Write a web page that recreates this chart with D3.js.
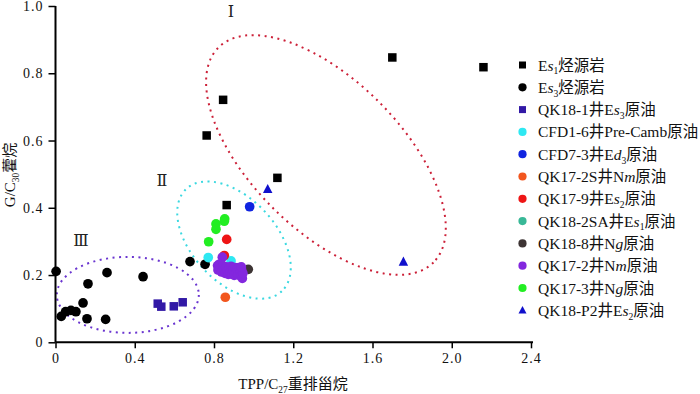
<!DOCTYPE html>
<html lang="zh">
<head>
<meta charset="UTF-8">
<title>G/C30 vs TPP/C27</title>
<script src="https://d3js.org/d3.v7.min.js"></script>
<style>
    body { margin: 0; padding: 0; background: #fff; }
    svg { font-family: "Liberation Serif", "DejaVu Serif", "Noto Sans CJK SC", serif; }
</style>
</head>
<body>
<svg id="chart" width="700" height="394"></svg>
<script>
// ---- data ----
const es1Rock = [[1.70, 0.847], [2.16, 0.818], [0.846, 0.721], [0.763, 0.615], [1.12, 0.489], [0.864, 0.408]];
const es3Rock = [[0.003, 0.211], [0.26, 0.207], [0.442, 0.195], [0.164, 0.174], [0.139, 0.117],
    [0.051, 0.091], [0.078, 0.095], [0.103, 0.091], [0.029, 0.077], [0.159, 0.070], [0.253, 0.068],
    [0.679, 0.240], [0.755, 0.232]];
const qk18_1 = [[0.516, 0.115], [0.534, 0.106], [0.597, 0.107], [0.642, 0.119]];
const cfd1_6 = [[0.771, 0.252], [0.886, 0.242]];
const cfd7_3 = [[0.980, 0.403]];
const qk17_2s = [[0.857, 0.134]];
const qk17_9 = [[0.864, 0.306], [0.852, 0.258]];
const qk17_2 = [[0.842, 0.253], [0.818, 0.228], [0.820, 0.215], [0.826, 0.232], [0.832, 0.220],
    [0.838, 0.209], [0.845, 0.228], [0.850, 0.215], [0.856, 0.205], [0.860, 0.224], [0.866, 0.212],
    [0.872, 0.202], [0.876, 0.220], [0.882, 0.209], [0.886, 0.226], [0.890, 0.203], [0.896, 0.216],
    [0.902, 0.199], [0.906, 0.222], [0.912, 0.209], [0.916, 0.218], [0.922, 0.201], [0.926, 0.222],
    [0.932, 0.211], [0.936, 0.197], [0.940, 0.214], [0.943, 0.190], [0.946, 0.205], [0.938, 0.224]];
const qk18_2sa = [[0.931, 0.200]];
const qk18_8 = [[0.973, 0.217]];
const qk17_3 = [[0.854, 0.367], [0.852, 0.360], [0.810, 0.352], [0.810, 0.336], [0.773, 0.299]];
const qk18_p2 = [[1.071, 0.456], [1.756, 0.240]];

const legendLabels = [
    "E<i>s</i><sub>1</sub>烃源岩",
    "E<i>s</i><sub>3</sub>烃源岩",
    "QK18-1井E<i>s</i><sub>3</sub>原油",
    "CFD1-6井Pre-Camb原油",
    "CFD7-3井E<i>d</i><sub>3</sub>原油",
    "QK17-2S井N<i>m</i>原油",
    "QK17-9井E<i>s</i><sub>2</sub>原油",
    "QK18-2SA井E<i>s</i><sub>1</sub>原油",
    "QK18-8井N<i>g</i>原油",
    "QK17-2井N<i>m</i>原油",
    "QK17-3井N<i>g</i>原油",
    "QK18-P2井E<i>s</i><sub>2</sub>原油"
];
const seriesData = [es1Rock, es3Rock, qk18_1, cfd1_6, cfd7_3, qk17_2s, qk17_9, qk18_2sa, qk18_8, qk17_2, qk17_3, qk18_p2];

const xTicks = [0, 0.4, 0.8, 1.2, 1.6, 2.0, 2.4];
const yTicks = [0, 0.2, 0.4, 0.6, 0.8, 1.0];

// zones: centre in data units
const zoneLabels = ["Ⅰ", "Ⅱ", "Ⅲ"];
const zoneCentres = [[1.365, 0.557], [0.901, 0.304], [0.365, 0.141]];
const zoneLabelPos = [[0.886, 0.967], [0.537, 0.464], [0.129, 0.287]];

// ---- styles ----
const styles = [
    { shape: "square", color: "#000000" },
    { shape: "circle", color: "#000000" },
    { shape: "square", color: "#3219a6" },
    { shape: "circle", color: "#2ee8f2" },
    { shape: "circle", color: "#1024e0" },
    { shape: "circle", color: "#f2561e" },
    { shape: "circle", color: "#ee1515" },
    { shape: "circle", color: "#38b897" },
    { shape: "circle", color: "#3d3434" },
    { shape: "circle", color: "#8327de" },
    { shape: "circle", color: "#22ee22" },
    { shape: "triangle", color: "#1010cc" }
];
const zoneStyles = [
    { color: "#cc2038", rx: 152, ry: 75, rot: 45 },
    { color: "#3ad8e0", rx: 70, ry: 42, rot: 47 },
    { color: "#6a35d0", rx: 71, ry: 38, rot: 0 }
];

const svg = d3.select("#chart");
const x = d3.scaleLinear().domain([0, 2.4]).range([55.5, 531]);
const y = d3.scaleLinear().domain([0, 1]).range([342.3, 6]);

// dotted zone ellipses
svg.append("g").selectAll("ellipse")
    .data(zoneCentres)
    .join("ellipse")
    .attr("transform", (d, i) => `translate(${x(d[0])},${y(d[1])}) rotate(${zoneStyles[i].rot})`)
    .attr("rx", (d, i) => zoneStyles[i].rx)
    .attr("ry", (d, i) => zoneStyles[i].ry)
    .attr("fill", "none")
    .attr("stroke", (d, i) => zoneStyles[i].color)
    .attr("stroke-width", 2)
    .attr("stroke-dasharray", "2 4.5");

svg.append("g").selectAll("text")
    .data(zoneCentres)
    .join("text")
    .attr("x", (d, i) => x(zoneLabelPos[i][0]))
    .attr("y", (d, i) => y(zoneLabelPos[i][1]))
    .attr("text-anchor", "middle")
    .attr("font-size", 16)
    .attr("fill", "#222")
    .text((d, i) => zoneLabels[i]);

// axes
const xAxis = d3.axisBottom(x).tickValues(xTicks).tickSize(6).tickPadding(5)
    .tickFormat(d => d === 0 ? "0" : d.toFixed(1));
const yAxis = d3.axisLeft(y).tickValues(yTicks).tickSize(7).tickPadding(5)
    .tickFormat(d => d === 0 ? "0" : d.toFixed(1));

const gx = svg.append("g").attr("transform", `translate(0,${y(0)})`).call(xAxis);
const gy = svg.append("g").attr("transform", `translate(${x(0)},0)`).call(yAxis);
[gx, gy].forEach(g => {
    g.select(".domain").attr("stroke", "#000").attr("stroke-width", 2)
        .attr("d", g === gx ? `M${x(0)},0H${x(2.4) + 2}` : `M0,${y(0)}V${y(1)}`);
    g.selectAll(".tick line").attr("stroke", "#000").attr("stroke-width", 1.5);
    g.selectAll(".tick text").attr("font-size", 14).attr("fill", "#111")
        .attr("font-family", "'Liberation Serif', 'DejaVu Serif', serif").style("letter-spacing", "1px");
});

// markers
function drawMarker(sel, shape, color, size) {
    if (shape === "square") {
        sel.append("rect").attr("x", -size / 2).attr("y", -size / 2)
            .attr("width", size).attr("height", size).attr("fill", color);
    } else if (shape === "circle") {
        sel.append("circle").attr("r", size / 2 + 0.6).attr("fill", color);
    } else {
        const h = size * 0.95;
        sel.append("path").attr("d", `M0,${-h / 2 - 1}L${size / 2 + 0.5},${h / 2}L${-size / 2 - 0.5},${h / 2}Z`)
            .attr("fill", color);
    }
}

const plot = svg.append("g");
seriesData.forEach((pts, i) => {
    plot.append("g").selectAll("g")
        .data(pts)
        .join("g")
        .attr("transform", d => `translate(${x(d[0])},${y(d[1])})`)
        .each(function () { drawMarker(d3.select(this), styles[i].shape, styles[i].color, 8.5); });
});

// rich label helper: parses <i> and <sub>
function richText(textSel, str, size) {
    const parts = str.split(/(<i>.*?<\/i>|<sub>.*?<\/sub>)/).filter(s => s.length);
    let shifted = false;
    parts.forEach(p => {
        const t = textSel.append("tspan");
        if (p.startsWith("<sub>")) {
            t.text(p.replace(/<\/?sub>/g, "")).attr("font-size", size * 0.62).attr("dy", size * 0.25);
            shifted = true;
        } else {
            if (shifted) { t.attr("dy", -size * 0.25); shifted = false; }
            if (p.startsWith("<i>")) t.text(p.replace(/<\/?i>/g, "")).attr("font-style", "italic");
            else t.text(p);
        }
    });
}

// legend
const legend = svg.append("g");
legendLabels.forEach((lab, i) => {
    const row = legend.append("g").attr("transform", `translate(522.5,${65 + i * 22.3})`);
    drawMarker(row, styles[i].shape, styles[i].color, 7);
    const t = row.append("text").attr("x", 15.5).attr("y", 5.5).attr("font-size", 15.5).attr("fill", "#111");
    richText(t, lab, 15.5);
});

// axis titles
const xt = svg.append("text").attr("x", 293).attr("y", 389).attr("text-anchor", "middle")
    .attr("font-size", 15).attr("fill", "#111");
richText(xt, "TPP/C<sub>27</sub>重排甾烷", 15);

const yt = svg.append("text").attr("transform", "translate(15,175) rotate(-90)")
    .attr("text-anchor", "middle").attr("font-size", 15).attr("fill", "#111");
richText(yt, "G/C<sub>30</sub>藿烷", 15);
</script>
</body>
</html>
